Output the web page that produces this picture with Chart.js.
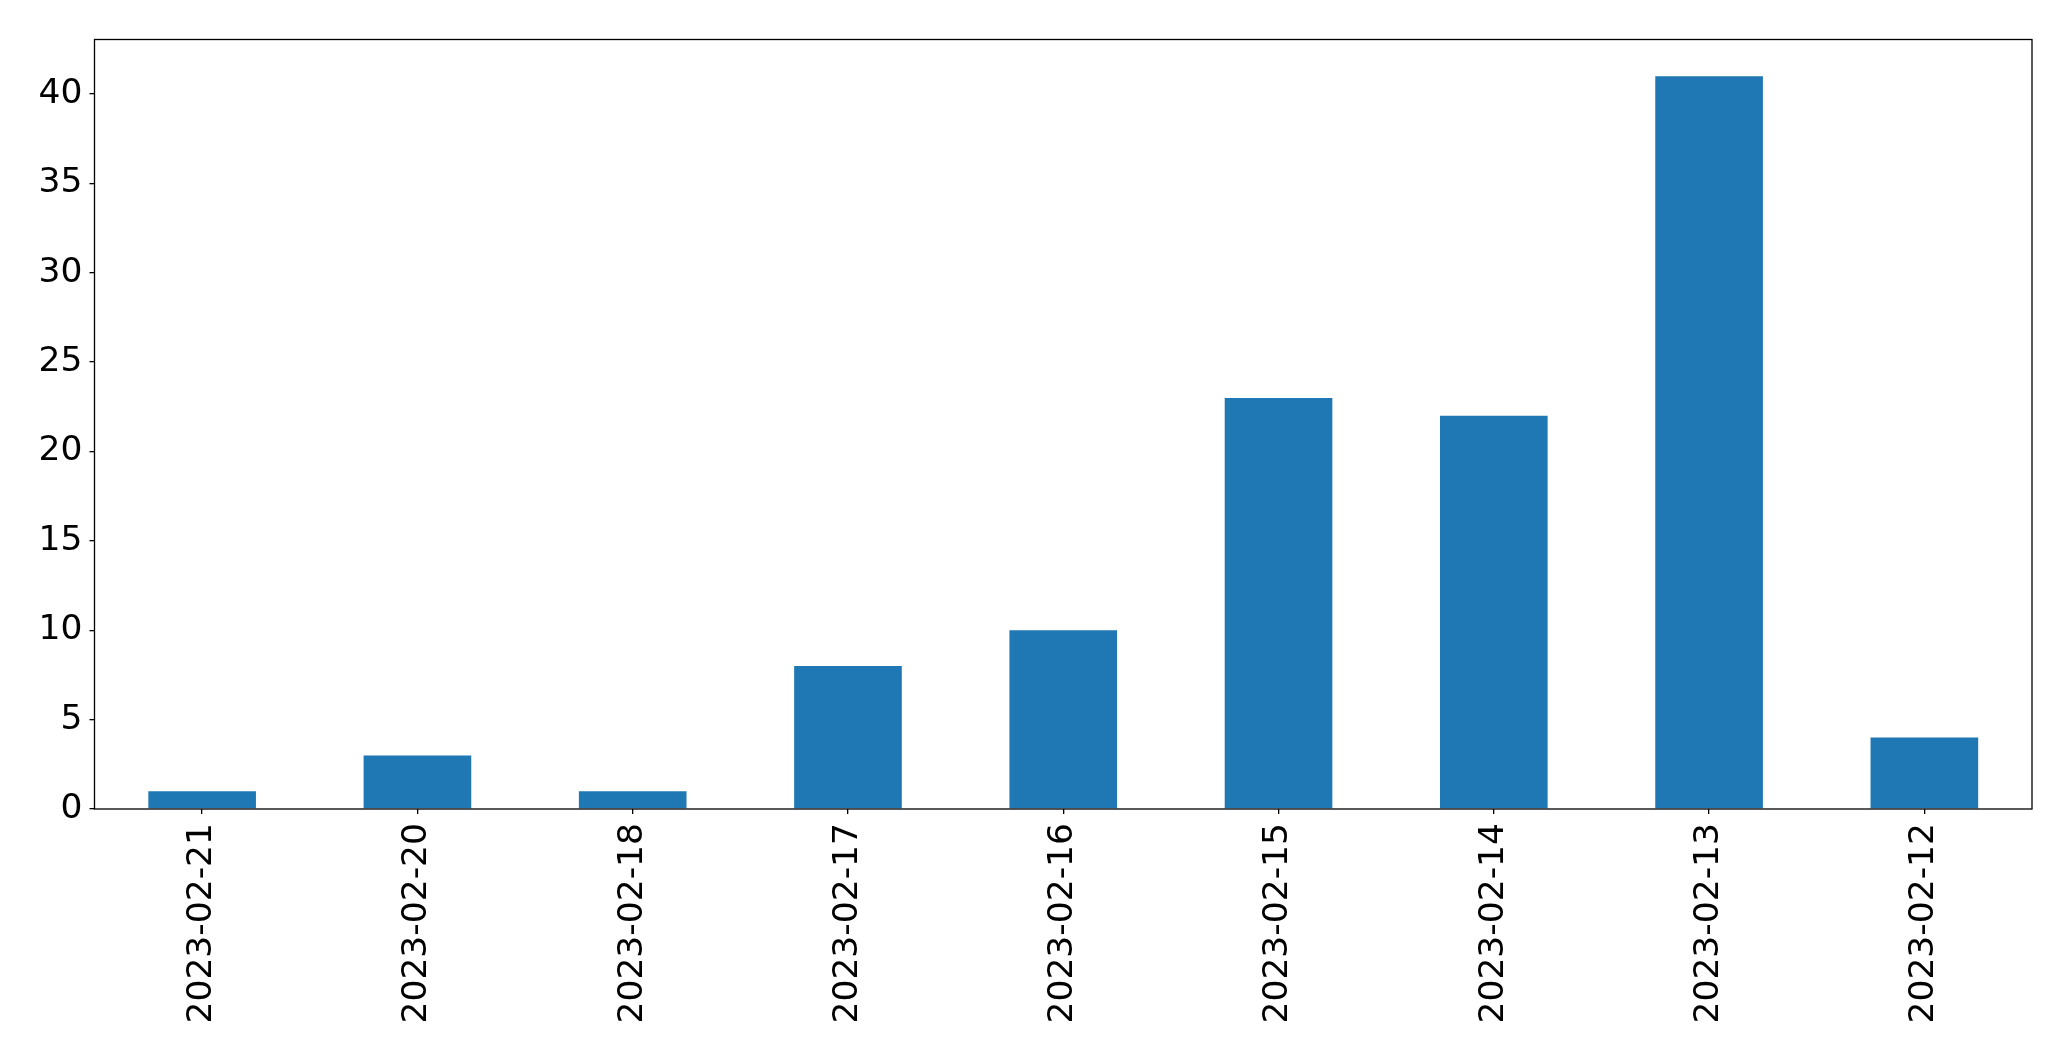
<!DOCTYPE html>
<html>
<head>
<meta charset="utf-8">
<script src="https://cdn.jsdelivr.net/npm/chart.js@4"></script>
<style>
  html, body { margin: 0; padding: 0; background: #fff; }
  #wrap { width: 2071px; height: 1061px; }
</style>
</head>
<body>
<div id="wrap"><canvas id="chart"></canvas></div>
<script>
// data
const dates = ['2023-02-21', '2023-02-20', '2023-02-18', '2023-02-17', '2023-02-16', '2023-02-15', '2023-02-14', '2023-02-13', '2023-02-12'];
const counts = [1, 3, 1, 8, 10, 23, 22, 41, 4];
const yMax = 43.05;
const yStep = 5;

// box around the plot area, like matplotlib
const frame = {
    id: 'frame',
    afterDraw(chart) {
        const a = chart.chartArea;
        const ctx = chart.ctx;
        ctx.save();
        ctx.strokeStyle = '#000';
        ctx.lineWidth = 1.3;
        ctx.strokeRect(a.left, a.top, a.right - a.left, a.bottom - a.top);
        ctx.restore();
    }
};

const font = { family: 'DejaVu Sans', size: 34.5 };

new Chart(document.getElementById('chart'), {
    type: 'bar',
    data: {
        labels: dates,
        datasets: [{
            data: counts,
            backgroundColor: '#1f77b4',
            barPercentage: 0.5,
            categoryPercentage: 1.0
        }]
    },
    options: {
        responsive: true,
        maintainAspectRatio: false,
        animation: false,
        layout: { padding: { top: 39.5, right: 39, left: 0, bottom: 0 } },
        plugins: { legend: { display: false }, tooltip: { enabled: false } },
        scales: {
            x: {
                grid: { offset: false, drawOnChartArea: false, drawTicks: true, tickLength: 5, color: '#000', lineWidth: 1.3 },
                border: { display: false },
                ticks: { color: '#000', font: font, minRotation: 90, maxRotation: 90, padding: 9, autoSkip: false },
                afterFit(scale) { scale.height = 1061 - 809; }
            },
            y: {
                min: 0,
                max: yMax,
                grid: { drawOnChartArea: false, drawTicks: true, tickLength: 5, color: '#000', lineWidth: 1.3 },
                border: { display: false },
                ticks: { color: '#000', font: font, stepSize: yStep, padding: 7 },
                afterBuildTicks(scale) {
                    scale.ticks = scale.ticks.filter(t => t.value % yStep === 0);
                },
                afterFit(scale) { scale.width = 94.5; }
            }
        }
    },
    plugins: [frame]
});
</script>
</body>
</html>
